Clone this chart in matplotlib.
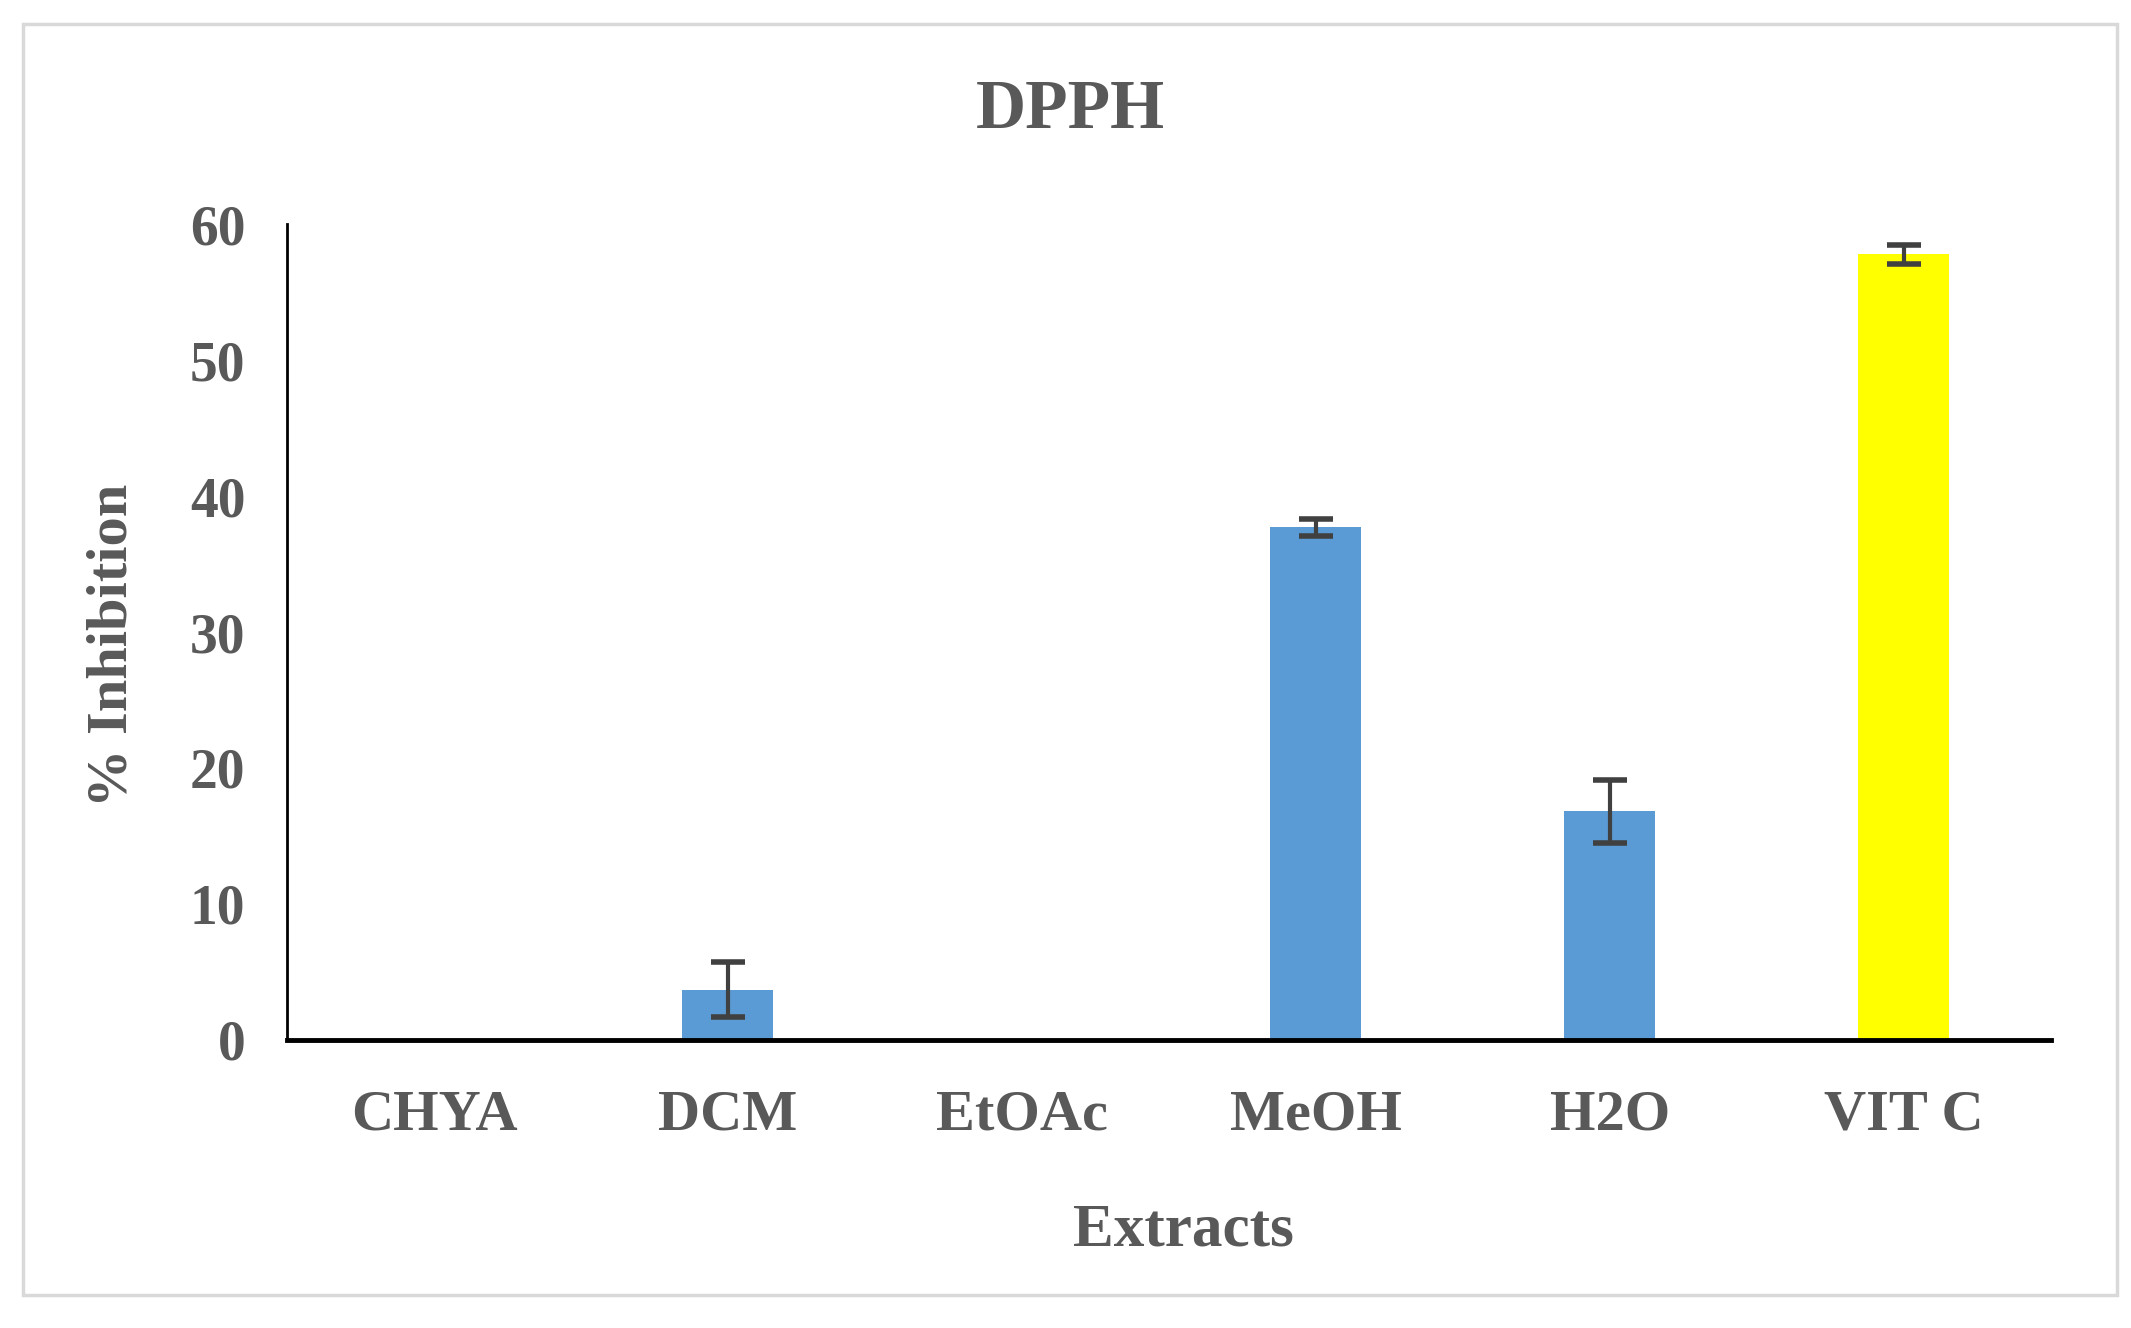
import matplotlib
matplotlib.use("Agg")
import matplotlib.pyplot as plt
from matplotlib.patches import Rectangle
import numpy as np

# data
extracts = ["CHYA", "DCM", "EtOAc", "MeOH", "H2O", "VIT C"]
inhibition = [0.0, 3.7, 0.0, 37.7, 16.8, 57.8]
errors = [0.0, 2.0, 0.0, 0.6, 2.3, 0.7]
has_err = [False, True, False, True, True, True]
colors = ["#5B9BD5", "#5B9BD5", "#5B9BD5", "#5B9BD5", "#5B9BD5", "#FFFF00"]

grey = "#595959"
plt.rcParams['font.family'] = ['Liberation Serif', 'DejaVu Serif']
plt.rcParams['font.weight'] = 'bold'

W, H = 1567.0, 977.0  # coords of the scaled reference
fig = plt.figure(figsize=(21.31, 13.28), dpi=100)
ax = fig.add_axes([211 / W, 1 - 765 / H, (1508 - 211) / W, (765 - 165) / H])

x = np.arange(len(extracts))
ax.bar(x, inhibition, width=0.31, color=colors, zorder=2)
xe = [x[i] for i in range(len(x)) if has_err[i]]
ye = [inhibition[i] for i in range(len(x)) if has_err[i]]
ee = [errors[i] for i in range(len(x)) if has_err[i]]
ax.errorbar(xe, ye, yerr=ee, fmt="none", ecolor="#404040", elinewidth=3,
            capsize=12, capthick=4, zorder=3)

ax.set_xlim(-0.5, 5.5)
ax.set_ylim(0, 60)
ax.set_yticks([0, 10, 20, 30, 40, 50, 60])
ax.set_xticks(x)
ax.set_xticklabels(extracts)
ax.tick_params(axis='both', length=0, colors=grey, labelsize=40)
ax.tick_params(axis='x', pad=36, labelsize=42)
ax.tick_params(axis='y', pad=30)
for lab in ax.get_xticklabels() + ax.get_yticklabels():
    lab.set_fontweight('bold')

ax.spines['top'].set_visible(False)
ax.spines['right'].set_visible(False)
ax.spines['left'].set_linewidth(2)
ax.spines['left'].set_color('black')
ax.spines['bottom'].set_linewidth(3.5)
ax.spines['bottom'].set_color('black')
ax.set_facecolor('none')

fig.text(787 / W, 1 - 82 / H, "DPPH", ha='center', va='center',
         fontsize=50, fontweight='bold', color=grey)
fig.text(870 / W, 1 - 905 / H, "Extracts", ha='center', va='center',
         fontsize=44, fontweight='bold', color=grey)
fig.text(83 / W, 1 - 475 / H, "% Inhibition", ha='center', va='center',
         rotation=90, fontsize=42, fontweight='bold', color=grey)

# light frame around the chart
fig.patches.append(Rectangle((17 / W, 1 - 953 / H), (1557 - 17) / W, (953 - 18) / H,
                             transform=fig.transFigure, fill=False,
                             edgecolor="#D9D9D9", linewidth=2.5))

fig.savefig("out.png", dpi=100)
